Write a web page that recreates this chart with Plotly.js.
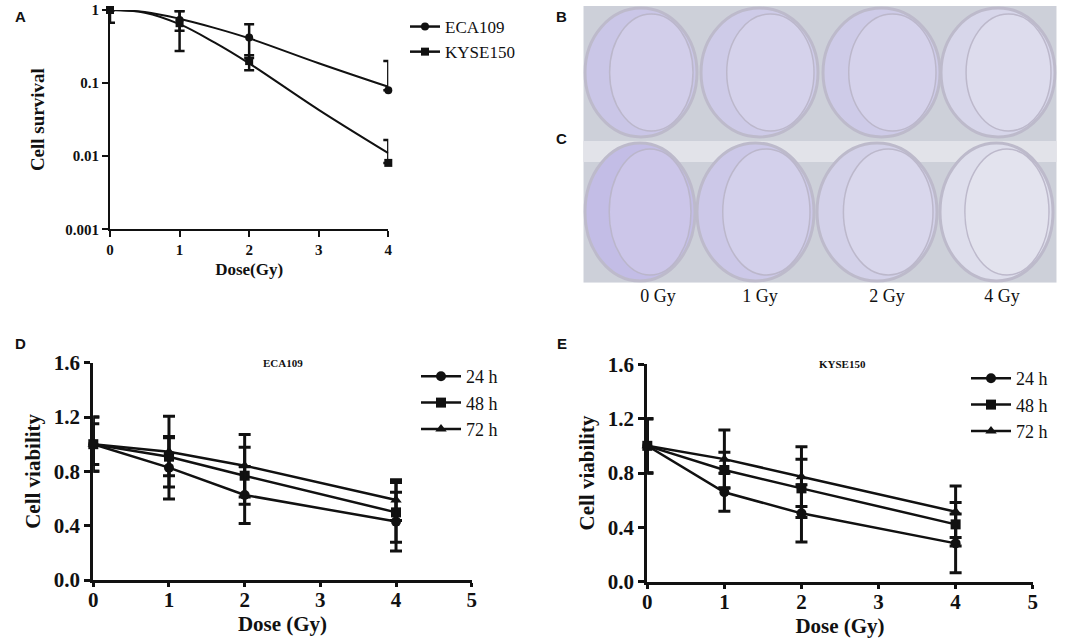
<!DOCTYPE html>
<html>
<head>
<meta charset="utf-8">
<script src="https://cdn.plot.ly/plotly-3.0.1.min.js"></script>
<style>
  html, body { margin: 0; padding: 0; background: #fff; }
  #chart { width: 1084px; height: 642px; }
</style>
</head>
<body>
<div id="chart"></div>
<script>
// panel A: clonogenic survival
const doseA = [0, 1, 2, 4];
const survECA = [1, 0.73, 0.42, 0.08];
const survECAplus = [0, 0.24, 0.22, 0.12];
const survECAminus = [0, 0.21, 0.2, 0];
const survKYSE = [1, 0.66, 0.2, 0.0081];
const survKYSEplus = [0, 0.3, 0.04, 0.0085];
const survKYSEminus = [0.33, 0.385, 0.05, 0];
// fitted curves
const fitDose = [0, 0.5, 1, 1.5, 2, 3, 4];
const fitECA = [1, 0.94, 0.76, 0.57, 0.41, 0.187, 0.089];
const fitKYSE = [1, 0.92, 0.64, 0.36, 0.186, 0.043, 0.011];
const survTicks = [0.001, 0.01, 0.1, 1];
const survTickText = ['0.001', '0.01', '0.1', '1'];

// panels D / E: CCK-8 viability
const doseV = [0, 1, 2, 4];
const timeLabels = ['24 h', '48 h', '72 h'];
const ecaV24 = [1.0, 0.827, 0.626, 0.43];
const ecaV48 = [1.0, 0.908, 0.768, 0.498];
const ecaV72 = [1.0, 0.945, 0.842, 0.589];
const ecaE24 = [0.2, 0.23, 0.21, 0.217];
const ecaE48 = [0.15, 0.14, 0.21, 0.22];
const ecaE72 = [0.2, 0.26, 0.23, 0.15];
const kyV24 = [1.0, 0.658, 0.503, 0.282];
const kyV48 = [1.0, 0.822, 0.687, 0.422];
const kyV72 = [1.0, 0.902, 0.773, 0.515];
const kyE24 = [0.2, 0.14, 0.21, 0.216];
const kyE48 = [0.2, 0.13, 0.215, 0.16];
const kyE72 = [0.2, 0.215, 0.22, 0.19];

// panels B / C: plate photo labels
const plateLabels = ['0 Gy', '1 Gy', '2 Gy', '4 Gy'];

const SERIF = 'Liberation Serif, Times New Roman, serif';
const SANS = 'Liberation Sans, Arial, sans-serif';
const W = 1084, H = 642;

// pixel helpers for domains
const px = v => v / W;
const py = v => 1 - v / H;

// log minor ticks 2..9 in each decade
const minorVals = [];
[0.001, 0.01, 0.1].forEach(d => { for (let m = 2; m <= 9; m++) minorVals.push(d * m); });

function survTrace(y, plus, minus, symbol, name) {
  return {
    x: doseA, y: y, type: 'scatter', mode: 'markers', name: name,
    xaxis: 'x', yaxis: 'y', legend: 'legend', showlegend: false,
    marker: { symbol: symbol, size: 8, color: '#111' },
    error_y: { type: 'data', symmetric: false, array: plus, arrayminus: minus,
               color: '#111', thickness: 2.5, width: 5 },
    cliponaxis: false
  };
}

function fitTrace(y, name) {
  return {
    x: fitDose, y: y, type: 'scatter', mode: 'lines', name: name,
    xaxis: 'x', yaxis: 'y', legend: 'legend', showlegend: false,
    line: { color: '#111', width: 2, shape: 'spline' },
    cliponaxis: false
  };
}

function legendDummy(symbol, name, size) {
  // legend entries drawn as line + marker
  return {
    x: [null], y: [null], type: 'scatter', mode: 'lines+markers', name: name,
    xaxis: 'x', yaxis: 'y', legend: 'legend',
    line: { color: '#111', width: 2.5 },
    marker: { symbol: symbol, size: size, color: '#111' }
  };
}

function viaTrace(y, err, symbol, name, xa, ya, legend) {
  return {
    x: doseV, y: y, type: 'scatter', mode: 'lines+markers', name: name,
    xaxis: xa, yaxis: ya, legend: legend,
    line: { color: '#111', width: 2.5 },
    marker: { symbol: symbol, size: 10, color: '#111' },
    error_y: { type: 'data', array: err, color: '#111', thickness: 3, width: 6 },
    cliponaxis: false
  };
}

const data = [
  survTrace(survECA, survECAplus, survECAminus, 'circle', 'ECA109'),
  survTrace(survKYSE, survKYSEplus, survKYSEminus, 'square', 'KYSE150'),
  fitTrace(fitECA, 'ECA109'),
  fitTrace(fitKYSE, 'KYSE150'),
  legendDummy('circle', 'ECA109', 8),
  legendDummy('square', 'KYSE150', 8),
  viaTrace(ecaV24, ecaE24, 'circle', timeLabels[0], 'x2', 'y2', 'legend2'),
  viaTrace(ecaV48, ecaE48, 'square', timeLabels[1], 'x2', 'y2', 'legend2'),
  viaTrace(ecaV72, ecaE72, 'triangle-up', timeLabels[2], 'x2', 'y2', 'legend2'),
  viaTrace(kyV24, kyE24, 'circle', timeLabels[0], 'x3', 'y3', 'legend3'),
  viaTrace(kyV48, kyE48, 'square', timeLabels[1], 'x3', 'y3', 'legend3'),
  viaTrace(kyV72, kyE72, 'triangle-up', timeLabels[2], 'x3', 'y3', 'legend3'),
  // invisible anchor for the photo axes
  { x: [600], y: [100], type: 'scatter', mode: 'markers', xaxis: 'x4', yaxis: 'y4',
    marker: { opacity: 0 }, showlegend: false, hoverinfo: 'skip' }
];

const axisBase = {
  showgrid: false, zeroline: false, showline: true, linecolor: '#111',
  ticks: 'outside', tickcolor: '#111', mirror: false
};

const boldTick = size => ({ family: SERIF, size: size, color: '#111', weight: 'bold' });

const layout = {
  width: W, height: H,
  margin: { l: 0, r: 0, t: 0, b: 0 },
  paper_bgcolor: '#fff', plot_bgcolor: 'rgba(0,0,0,0)',
  font: { family: SERIF, color: '#111' },
  showlegend: true,

  // panel A
  xaxis: Object.assign({}, axisBase, {
    domain: [px(110), px(388.3)], anchor: 'y', range: [0, 4], dtick: 1,
    linewidth: 2, tickwidth: 2, ticklen: 6, tickfont: boldTick(15),
    title: { text: 'Dose(Gy)', font: boldTick(17), standoff: 6 }
  }),
  yaxis: Object.assign({}, axisBase, {
    domain: [py(229.3), py(10)], anchor: 'x', type: 'log', range: [-3, 0],
    tickvals: survTicks, ticktext: survTickText,
    linewidth: 2, tickwidth: 2, ticklen: 6, tickfont: boldTick(15),
    title: { text: 'Cell survival', font: boldTick(19), standoff: 16 }
  }),

  // panel D
  xaxis2: Object.assign({}, axisBase, {
    domain: [px(93.3), px(471.7)], anchor: 'y2', range: [0, 5], dtick: 1,
    linewidth: 3, tickwidth: 3, ticklen: 4, tickfont: boldTick(21), ticklabelstandoff: -5,
    title: { text: 'Dose (Gy)', font: boldTick(21), standoff: 0 }
  }),
  yaxis2: Object.assign({}, axisBase, {
    domain: [py(580), py(362.7)], anchor: 'x2', range: [0, 1.6], dtick: 0.4,
    tickformat: '.1f', linewidth: 3, tickwidth: 3, ticklen: 6, tickfont: boldTick(21),
    title: { text: 'Cell viability', font: boldTick(21), standoff: 8 }
  }),

  // panel E
  xaxis3: Object.assign({}, axisBase, {
    domain: [px(647.3), px(1032.7)], anchor: 'y3', range: [0, 5], dtick: 1,
    linewidth: 3, tickwidth: 3, ticklen: 4, tickfont: boldTick(21), ticklabelstandoff: -5,
    title: { text: 'Dose (Gy)', font: boldTick(21), standoff: 0 }
  }),
  yaxis3: Object.assign({}, axisBase, {
    domain: [py(581.7), py(364.3)], anchor: 'x3', range: [0, 1.6], dtick: 0.4,
    tickformat: '.1f', linewidth: 3, tickwidth: 3, ticklen: 6, tickfont: boldTick(21),
    title: { text: 'Cell viability', font: boldTick(21), standoff: 8 }
  }),

  // photo area (B / C), axes in page pixels
  xaxis4: {
    domain: [px(583.3), px(1056.7)], anchor: 'y4', range: [583.3, 1056.7],
    showgrid: false, zeroline: false, showline: false, ticks: '',
    tickvals: [658, 760, 887, 1002], ticktext: plateLabels,
    tickfont: { family: SERIF, size: 18, color: '#111' }
  },
  yaxis4: {
    domain: [py(282.7), py(6)], anchor: 'x4', range: [282.7, 6],
    showgrid: false, zeroline: false, showline: false, showticklabels: false, ticks: ''
  },

  legend: {
    x: px(405), y: py(9), xanchor: 'left', yanchor: 'top', bgcolor: 'rgba(0,0,0,0)',
    font: { family: SERIF, size: 17, color: '#111' }, itemwidth: 30
  },
  legend2: {
    x: px(416), y: py(358), xanchor: 'left', yanchor: 'top', bgcolor: 'rgba(0,0,0,0)',
    font: { family: SERIF, size: 18, color: '#111' }, itemwidth: 40
  },
  legend3: {
    x: px(966), y: py(360), xanchor: 'left', yanchor: 'top', bgcolor: 'rgba(0,0,0,0)',
    font: { family: SERIF, size: 18, color: '#111' }, itemwidth: 40
  },

  annotations: [
    { text: 'A', x: px(13), y: py(16), xref: 'paper', yref: 'paper', xanchor: 'left', yanchor: 'middle',
      showarrow: false, font: { family: SANS, size: 15, weight: 'bold', color: '#111' } },
    { text: 'B', x: px(554), y: py(16), xref: 'paper', yref: 'paper', xanchor: 'left', yanchor: 'middle',
      showarrow: false, font: { family: SANS, size: 15, weight: 'bold', color: '#111' } },
    { text: 'C', x: px(554), y: py(139), xref: 'paper', yref: 'paper', xanchor: 'left', yanchor: 'middle',
      showarrow: false, font: { family: SANS, size: 15, weight: 'bold', color: '#111' } },
    { text: 'D', x: px(13), y: py(343), xref: 'paper', yref: 'paper', xanchor: 'left', yanchor: 'middle',
      showarrow: false, font: { family: SANS, size: 15, weight: 'bold', color: '#111' } },
    { text: 'E', x: px(555), y: py(343), xref: 'paper', yref: 'paper', xanchor: 'left', yanchor: 'middle',
      showarrow: false, font: { family: SANS, size: 15, weight: 'bold', color: '#111' } },
    { text: 'ECA109', x: px(283), y: py(363), xref: 'paper', yref: 'paper', xanchor: 'center', yanchor: 'middle',
      showarrow: false, font: { family: SERIF, size: 11, weight: 'bold', color: '#111' } },
    { text: 'KYSE150', x: px(842), y: py(364), xref: 'paper', yref: 'paper', xanchor: 'center', yanchor: 'middle',
      showarrow: false, font: { family: SERIF, size: 11, weight: 'bold', color: '#111' } }
  ],

  shapes: []
};

const shapes = layout.shapes;

// minor log ticks on panel A's y axis (log axes take log10 values in shapes)
minorVals.forEach(v => {
  shapes.push({ type: 'line', xref: 'paper', yref: 'y', x0: px(106), x1: px(110),
    y0: Math.log10(v), y1: Math.log10(v), line: { color: '#111', width: 1.5 }, layer: 'above' });
});

// photo stand-in: plate backdrop and dishes
shapes.push({ type: 'rect', xref: 'x4', yref: 'y4', x0: 583.3, x1: 1056.7, y0: 6, y1: 282.7,
  fillcolor: '#cdd0d9', line: { width: 0 }, layer: 'below' });
shapes.push({ type: 'rect', xref: 'x4', yref: 'y4', x0: 583.3, x1: 1056.7, y0: 141, y1: 162,
  fillcolor: '#e2e3e9', line: { width: 0 }, layer: 'below' });
const dishes = [
  // [x0, x1, y0, y1, colony tint]
  [585, 697, 8, 137, 0.5], [701, 818, 8, 137, 0.4], [823, 940, 8, 137, 0.4], [941, 1055, 8, 137, 0.2],
  [585, 695, 143, 281, 0.65], [697, 814, 143, 281, 0.45], [817, 937, 143, 281, 0.3], [940, 1053, 143, 281, 0.05]
];
dishes.forEach(([x0, x1, y0, y1, t]) => {
  const r = Math.round(224 - 45 * t), g = Math.round(225 - 55 * t), b = Math.round(236 - 10 * t);
  shapes.push({ type: 'circle', xref: 'x4', yref: 'y4', x0, x1, y0, y1, layer: 'below',
    fillcolor: `rgb(${r},${g},${b})`, line: { color: '#bdbacb', width: 3 } });
  shapes.push({ type: 'circle', xref: 'x4', yref: 'y4', layer: 'below',
    x0: x0 + (x1 - x0) * 0.22, x1: x1 - 4, y0: y0 + 6, y1: y1 - 6,
    fillcolor: 'rgba(255,255,255,0.15)', line: { color: 'rgba(185,181,200,0.9)', width: 1.5 } });
});

Plotly.newPlot('chart', data, layout, { displayModeBar: false, staticPlot: true });
</script>
</body>
</html>
